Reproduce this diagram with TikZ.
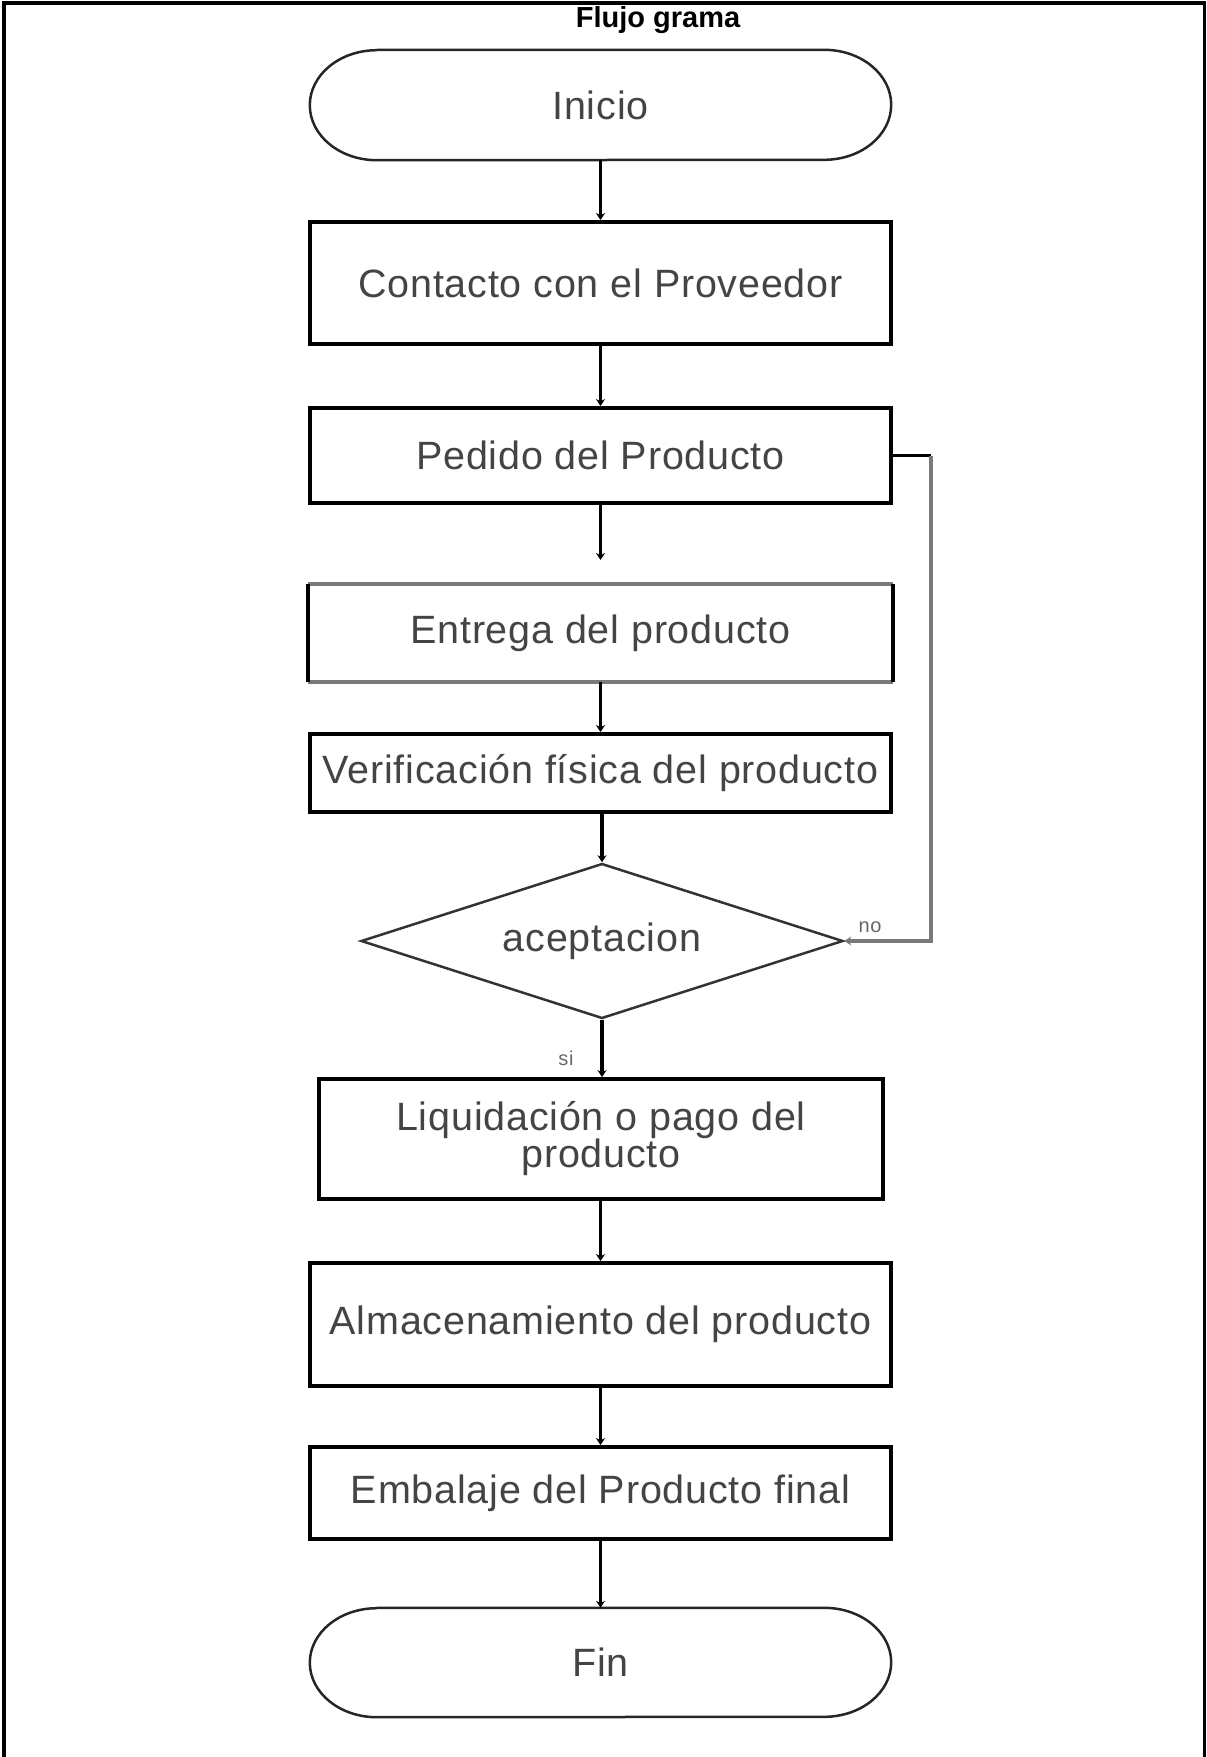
\documentclass[tikz,border=0pt]{standalone}
\usepackage{fontspec}
\setmainfont{Liberation Sans}
\usetikzlibrary{arrows.meta,shapes.geometric}
\definecolor{txtgray}{HTML}{444444}
\definecolor{loopgray}{HTML}{7A7A7A}
\newcommand{\boxfont}{\fontsize{39.5}{37}\selectfont\addfontfeature{LetterSpace=2}}
\begin{document}
\begin{tikzpicture}[x=1pt,y=-1pt,
  box/.style={draw=black,line width=3.8pt,rectangle,minimum width=581pt,inner sep=0pt,
    text=txtgray,font=\boxfont,align=center},
  termbox/.style={rectangle,minimum width=581pt,minimum height=110pt,inner sep=0pt,
    text=txtgray,font=\boxfont},
  termline/.style={draw=black!85,line width=2.5pt},
  conn/.style={draw=black,line width=3.8pt,-{Stealth[length=7pt,width=9pt]}},
  lbl/.style={text=black!60,font=\fontsize{20}{22}\selectfont\addfontfeature{LetterSpace=3},inner sep=0pt},
]
\useasboundingbox (0,0) rectangle (1207,1757);
% frame (no bottom edge)
\draw[line width=3.2pt] (4,1757) -- (4,3) -- (1204.5,3) -- (1204.5,1757);
\node[font=\bfseries\fontsize{29}{32}\selectfont,inner sep=0pt] (title) at (658,20) {Flujo grama};

% terminals
\node[termbox] (ini) at (600.5,105) {Inicio};
\draw[termline] ([xshift=67pt]ini.north west) -- ([xshift=-67pt]ini.north east)
  arc[start angle=90,end angle=-90,x radius=67pt,y radius=55pt]
  -- ([xshift=67pt]ini.south west)
  arc[start angle=270,end angle=90,x radius=67pt,y radius=55pt];
\node[termbox,minimum height=109pt] (fin) at (600.5,1662.5) {Fin};
\draw[termline] ([xshift=67pt]fin.north west) -- ([xshift=-67pt]fin.north east)
  arc[start angle=90,end angle=-90,x radius=67pt,y radius=54.5pt]
  -- ([xshift=67pt]fin.south west)
  arc[start angle=270,end angle=90,x radius=67pt,y radius=54.5pt];

% process boxes
\node[box,minimum height=122pt] (b1) at (600.5,283) {Contacto con el Proveedor};
\node[box,minimum height=95pt] (b2) at (600.5,455.5) {Pedido del Producto};
\node[box,draw=none,minimum height=94pt] (b3) at (600.5,633) {Entrega del producto};
\draw[line width=3.8pt,loopgray] (b3.north west) -- (b3.north east);
\draw[line width=3.8pt,loopgray] (b3.south west) -- (b3.south east);
\draw[line width=3.8pt] (b3.north west) -- (b3.south west);
\draw[line width=3.8pt] (b3.north east) -- (b3.south east);
\node[box,minimum height=78pt] (b4) at (600.5,773) {Verificación física del producto};
\node[diamond,draw=black!80,line width=2.5pt,minimum width=482pt,minimum height=155pt,
  inner sep=0pt,aspect=3.1,text=txtgray,font=\boxfont] (dec) at (602,941) {aceptacion};
\node[box,minimum width=564pt,minimum height=120pt] (b5) at (601,1139) {Liquidación o pago del\\producto};
\node[box,minimum height=123pt] (b6) at (600.5,1324.5) {Almacenamiento del producto};
\node[box,minimum height=92pt] (b7) at (600.5,1493) {Embalaje del Producto final};

% connectors
\draw[conn] (ini.south) -- (b1.north);
\draw[conn] (b1.south) -- (b2.north);
\coordinate (gap) at (600.5,560);
\draw[conn] (b2.south) -- (gap);
\draw[conn] (b3.south) -- (b4.north);
\draw[conn] (b4.south -| dec.north) -- (dec.north);
\draw[conn] (dec.south) -- (dec.south |- b5.north);
\draw[conn] (b5.south -| b6.north) -- (b6.north);
\draw[conn] (b6.south) -- (b7.north);
\draw[conn] (b7.south) -- (fin.north);

% "no" loop
\coordinate (c1) at (931,455.5);
\coordinate (c2) at (c1 |- dec.east);
\draw[line width=3.8pt] (b2.east) -- (c1);
\draw[line width=4pt,loopgray,-{Stealth[length=7pt,width=9pt]}] (c1) -- (c2) -- (dec.east);

% labels
\node[lbl] (no) at (870,927) {no};
\node[lbl] (si) at (566,1058) {si};
\end{tikzpicture}
\end{document}
